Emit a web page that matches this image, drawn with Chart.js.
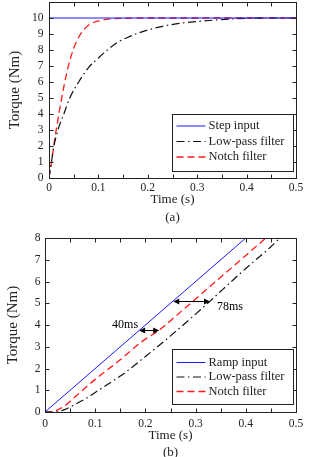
<!DOCTYPE html>
<html>
<head>
<meta charset="utf-8">
<script src="https://cdn.jsdelivr.net/npm/chart.js@4.4.0/dist/chart.umd.min.js"></script>
<style>
    body { margin: 0; width: 311px; height: 457px; overflow: hidden; background: #fff; position: relative; }
    .box { position: absolute; left: 0; width: 311px; }
    #boxA { top: 0; height: 226px; }
    #boxB { top: 226px; height: 236px; }
</style>
</head>
<body>
<div class="box" id="boxA"><canvas id="chartA"></canvas></div>
<div class="box" id="boxB"><canvas id="chartB"></canvas></div>
<script>
// (a) step response
const stepTime = [0, 0.5];
const stepTorque = [10, 10];
const lpfTimeA = [0, 0.005, 0.01, 0.018, 0.03, 0.042, 0.06, 0.08, 0.1, 0.12, 0.14, 0.16, 0.18, 0.2, 0.23, 0.26, 0.3, 0.34, 0.38, 0.42, 0.45, 0.5];
const lpfTorqueA = [0, 1, 2, 3, 4, 5, 6, 6.9, 7.5, 8.05, 8.5, 8.8, 9.05, 9.25, 9.48, 9.65, 9.78, 9.88, 9.95, 9.99, 10, 10];
const notchTimeA = [0, 0.005, 0.012, 0.02, 0.03, 0.04, 0.05, 0.06, 0.07, 0.08, 0.09, 0.1, 0.12, 0.15, 0.2, 0.5];
const notchTorqueA = [0, 1, 2.5, 4, 5.7, 7.1, 8.1, 8.8, 9.25, 9.55, 9.72, 9.82, 9.93, 9.98, 10, 10];

// (b) ramp response
const rampTime = [0, 0.4];
const rampTorque = [0, 8];
const lpfTimeB = [0, 0.02, 0.04, 0.06, 0.08, 0.1, 0.12, 0.15, 0.2, 0.25, 0.3, 0.329, 0.35, 0.4, 0.45, 0.468];
const lpfTorqueB = [0, 0, 0.12, 0.35, 0.6, 0.9, 1.2, 1.65, 2.55, 3.5, 4.5, 5.1, 5.55, 6.6, 7.6, 8];
const notchTimeB = [0, 0.02, 0.04, 0.06, 0.08, 0.1, 0.125, 0.15, 0.18, 0.2, 0.227, 0.25, 0.3, 0.35, 0.4, 0.44];
const notchTorqueB = [0, 0.05, 0.3, 0.7, 1.1, 1.5, 1.95, 2.4, 3.0, 3.35, 3.75, 4.2, 5.2, 6.2, 7.2, 8];

// delay markers in (b)
const delayLabels = ['40ms', '78ms'];
const delayFrom = [0.1875, 0.2555];
const delayTo = [0.2275, 0.3287];
const delayLevel = [3.75, 5.1];

// tick labels
const xTickLabels = ['0', '0.1', '0.2', '0.3', '0.4', '0.5'];
const yTickLabelsA = ['0', '1', '2', '3', '4', '5', '6', '7', '8', '9', '10'];
const yTickLabelsB = ['0', '1', '2', '3', '4', '5', '6', '7', '8'];
const legendA = ['Step input', 'Low-pass filter', 'Notch filter'];
const legendB = ['Ramp input', 'Low-pass filter', 'Notch filter'];

const SERIF = '"Liberation Serif", "DejaVu Serif", serif';
const INK = '#222';

function pts(xs, ys) {
    return xs.map((x, i) => ({ x: x, y: ys[i] }));
}

function makeSets(labels, input, lpf, notch) {
    return [
        { label: labels[0], data: input, borderColor: '#1a1aff', borderWidth: 1, borderDash: [] },
        { label: labels[1], data: lpf, borderColor: '#111', borderWidth: 1.2, borderDash: [8, 3.5, 1.5, 3.5] },
        { label: labels[2], data: notch, borderColor: '#ff1a1a', borderWidth: 1.3, borderDash: [7, 4] }
    ].map(d => Object.assign(d, { pointRadius: 0, fill: false, cubicInterpolationMode: 'monotone' }));
}

// box border + inward ticks on all four sides
const framePlugin = {
    id: 'frame',
    afterDatasetsDraw(chart) {
        const { ctx, chartArea: a, scales: { x, y } } = chart;
        const L = Math.round(a.left) + 0.5, R = Math.round(a.right) + 0.5;
        const T = Math.round(a.top) + 0.5, B = Math.round(a.bottom) + 0.5;
        ctx.save();
        ctx.strokeStyle = INK;
        ctx.lineWidth = 1;
        ctx.beginPath();
        x.ticks.forEach(t => {
            const px = Math.round(x.getPixelForValue(t.value)) + 0.5;
            ctx.moveTo(px, B); ctx.lineTo(px, B - 4);
            ctx.moveTo(px, T); ctx.lineTo(px, T + 4);
        });
        y.ticks.forEach(t => {
            const py = Math.round(y.getPixelForValue(t.value)) + 0.5;
            ctx.moveTo(L, py); ctx.lineTo(L + 4, py);
            ctx.moveTo(R, py); ctx.lineTo(R - 4, py);
        });
        ctx.stroke();
        ctx.strokeRect(L, T, R - L, B - T);
        ctx.restore();
    }
};

// legend drawn inside the plot, bottom right
const boxLegend = {
    id: 'boxLegend',
    afterDraw(chart, args, opts) {
        const { ctx, chartArea: a } = chart;
        const w = 121, h = opts.height;
        const left = Math.round(a.right - 3 - w) + 0.5;
        const top = Math.round(a.bottom - opts.bottom - h) + 0.5;
        ctx.save();
        ctx.fillStyle = '#fff';
        ctx.fillRect(left, top, w, h);
        ctx.strokeStyle = INK;
        ctx.lineWidth = 1;
        ctx.strokeRect(left, top, w, h);
        chart.data.datasets.forEach((ds, i) => {
            const yy = top + opts.first + i * opts.step;
            ctx.strokeStyle = ds.borderColor;
            ctx.lineWidth = ds.borderWidth;
            ctx.setLineDash(ds.borderDash);
            ctx.beginPath();
            ctx.moveTo(left + 4, yy);
            ctx.lineTo(left + 33, yy);
            ctx.stroke();
            ctx.setLineDash([]);
            ctx.fillStyle = INK;
            ctx.font = '12.5px ' + SERIF;
            ctx.textBaseline = 'middle';
            ctx.fillText(ds.label, left + 36, yy);
        });
        ctx.restore();
    }
};

// double-headed arrows with delay text
const delayPlugin = {
    id: 'delays',
    afterDatasetsDraw(chart) {
        const { ctx, scales: { x, y } } = chart;
        ctx.save();
        ctx.strokeStyle = '#000';
        ctx.fillStyle = '#000';
        ctx.lineWidth = 1;
        ctx.font = '12px ' + SERIF;
        delayLabels.forEach((lab, i) => {
            const x1 = x.getPixelForValue(delayFrom[i]);
            const x2 = x.getPixelForValue(delayTo[i]);
            const yy = Math.round(y.getPixelForValue(delayLevel[i])) + 0.5;
            ctx.beginPath();
            ctx.moveTo(x1 + 4, yy); ctx.lineTo(x2 - 4, yy);
            ctx.stroke();
            [[x1, 1], [x2, -1]].forEach(([px, dir]) => {
                ctx.beginPath();
                ctx.moveTo(px, yy);
                ctx.lineTo(px + dir * 6, yy - 3);
                ctx.lineTo(px + dir * 6, yy + 3);
                ctx.closePath();
                ctx.fill();
            });
            ctx.textBaseline = 'middle';
            if (i === 0) {
                ctx.textAlign = 'right';
                ctx.fillText(lab, x1 - 1, yy - 6);
            } else {
                ctx.textAlign = 'left';
                ctx.fillText(lab, x2 + 7, yy + 5);
            }
        });
        ctx.restore();
    }
};

function buildOptions(cfg) {
    return {
        responsive: true,
        maintainAspectRatio: false,
        animation: false,
        layout: { padding: { top: cfg.padTop, right: 15, left: 0, bottom: 0 } },
        plugins: {
            legend: { display: false },
            tooltip: { enabled: false },
            boxLegend: cfg.legend
        },
        scales: {
            x: {
                type: 'linear',
                min: 0, max: 0.5,
                grid: { display: false, drawTicks: false },
                border: { display: false },
                afterFit: s => { s.height = cfg.xHeight; },
                ticks: {
                    stepSize: 0.05,
                    autoSkip: false,
                    maxRotation: 0,
                    padding: cfg.xPad,
                    color: INK,
                    font: { family: SERIF, size: 11.5 },
                    callback: (v, i) => (i % 2 === 0 ? xTickLabels[i / 2] : '')
                },
                title: {
                    display: true,
                    text: ['Time (s)', cfg.tag],
                    color: INK,
                    font: { family: SERIF, size: 13, lineHeight: cfg.titleLine },
                    padding: { top: 0, bottom: cfg.titlePad }
                }
            },
            y: {
                min: 0, max: cfg.yMax,
                grid: { display: false, drawTicks: false },
                border: { display: false },
                afterFit: s => {
                    s.width = cfg.yWidth;
                    s.paddingTop = 0;
                    s.paddingBottom = 0;
                },
                ticks: {
                    stepSize: 1,
                    autoSkip: false,
                    padding: cfg.yPad,
                    color: INK,
                    font: { family: SERIF, size: 11.5 },
                    callback: (v, i) => cfg.yLabels[i] ?? ''
                },
                title: {
                    display: true,
                    text: 'Torque (Nm)',
                    color: INK,
                    font: { family: SERIF, size: 15, lineHeight: 1.2 },
                    padding: { top: cfg.yTitlePad, bottom: 0 }
                }
            }
        }
    };
}

new Chart(document.getElementById('chartA'), {
    type: 'line',
    data: {
        datasets: makeSets(legendA, pts(stepTime, stepTorque), pts(lpfTimeA, lpfTorqueA), pts(notchTimeA, notchTorqueA))
    },
    options: buildOptions({
        padTop: 2, xHeight: 48, yWidth: 49, yMax: 11, yLabels: yTickLabelsA,
        xPad: 3, yPad: 5.5, tag: '(a)', titleLine: 17.5 / 13, titlePad: 0, yTitlePad: 6,
        legend: { height: 57, bottom: 7, first: 11.5, step: 15.5 }
    }),
    plugins: [framePlugin, boxLegend]
});

new Chart(document.getElementById('chartB'), {
    type: 'line',
    data: {
        datasets: makeSets(legendB, pts(rampTime, rampTorque), pts(lpfTimeB, lpfTorqueB), pts(notchTimeB, notchTorqueB))
    },
    options: buildOptions({
        padTop: 12, xHeight: 50, yWidth: 45, yMax: 8, yLabels: yTickLabelsB,
        xPad: 5, yPad: 4.5, tag: '(b)', titleLine: 1.3, titlePad: 1, yTitlePad: 4.3,
        legend: { height: 55, bottom: 8, first: 13, step: 14.5 }
    }),
    plugins: [framePlugin, boxLegend, delayPlugin]
});
</script>
</body>
</html>
